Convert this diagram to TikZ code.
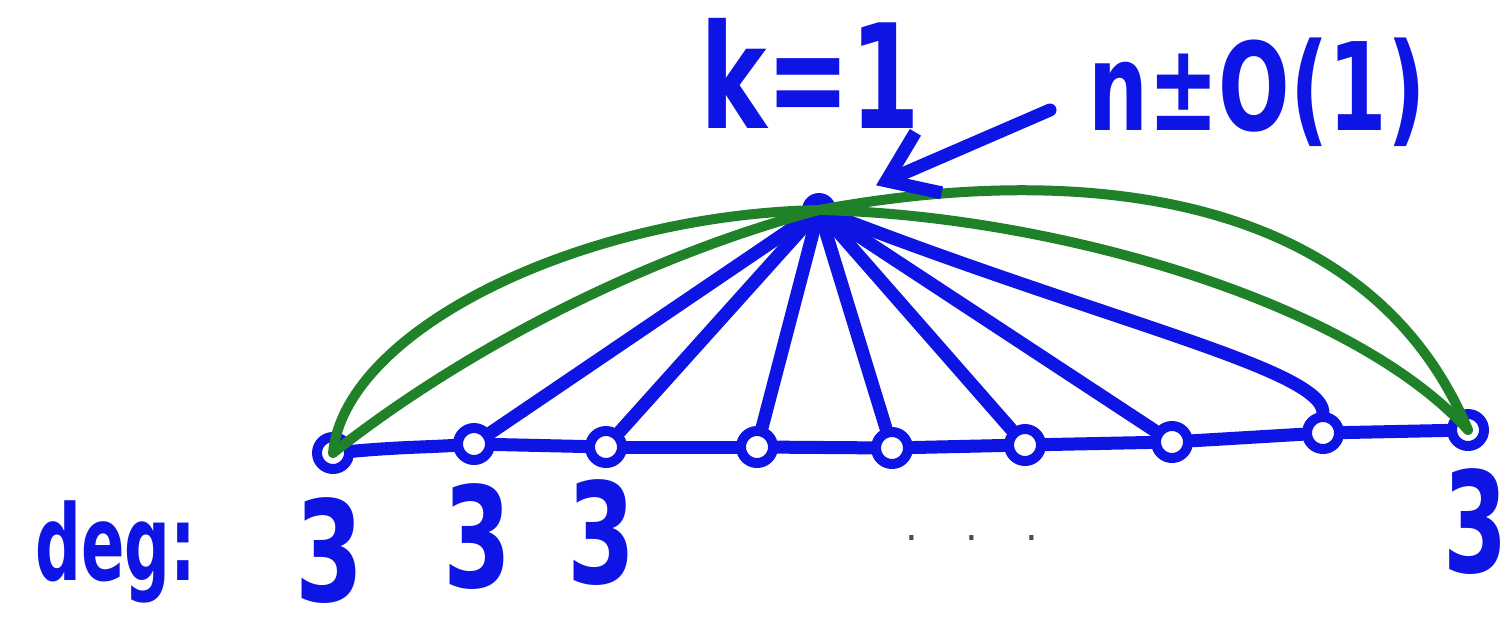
\documentclass[tikz,border=0pt]{standalone}
\usepackage{fontspec}
\setmainfont{DejaVu Sans}
\usetikzlibrary{arrows.meta}
\definecolor{pen}{RGB}{14,20,228}
\definecolor{grn}{RGB}{32,130,40}
\begin{document}
\begin{tikzpicture}[x=1pt,y=-1pt, line cap=round, line join=round,
 vtx/.style={circle, draw=pen, line width=10pt, minimum size=32pt, inner sep=0pt},
 hubv/.style={circle, fill=pen, minimum size=34pt, inner sep=0pt},
 bl/.style={draw=pen, line width=13pt},
 gr/.style={draw=grn, line width=10pt},
 digit/.style={text=pen, inner sep=0pt, anchor=base, font=\bfseries\fontsize{140}{140}\selectfont},
 lab/.style={text=pen, inner sep=0pt, anchor=base}]
\useasboundingbox (0,0) rectangle (1511,643);
\fill[white] (0,0) rectangle (1511,643);
% vertices
\node[vtx] (v1) at (333,453) {};
\node[vtx] (v2) at (474,444) {};
\node[vtx] (v3) at (606,447) {};
\node[vtx] (v4) at (757,447) {};
\node[vtx] (v5) at (892,448) {};
\node[vtx] (v6) at (1025,445) {};
\node[vtx] (v7) at (1172,442) {};
\node[vtx] (v8) at (1323,433) {};
\node[vtx] (v9) at (1468,430) {};
\node[hubv] (hub) at (819,210) {};
% path along the bottom
\draw[bl] (v1) .. controls (400,447) and (430,447) .. (v2);
\draw[bl] (v2) -- (v3);
\draw[bl] (v3) -- (v4);
\draw[bl] (v4) -- (v5);
\draw[bl] (v5) -- (v6);
\draw[bl] (v6) -- (v7);
\draw[bl] (v7) -- (v8);
\draw[bl] (v8) -- (v9);
% spokes
\draw[bl] (hub) -- (v2);
\draw[bl] (hub) -- (v3);
\draw[bl] (hub) -- (v4);
\draw[bl] (hub) -- (v5);
\draw[bl] (hub) -- (v6);
\draw[bl] (hub) -- (v7);
\draw[bl] (hub.center) .. controls (1100,320) and (1320,368) .. (v8.north);
% green double edges
\draw[gr] (v1.center) .. controls (345,330) and (580,215) .. (hub.center);
\draw[gr] (v1.center) .. controls (470,345) and (650,255) .. (hub.center);
\draw[gr] (hub.center) .. controls (1090,160) and (1370,195) .. (v9.center);
\draw[gr] (hub.center) .. controls (1050,215) and (1350,300) .. (v9.center);
% labels
\node[lab, font=\bfseries\fontsize{145}{145}\selectfont] (k) at (810,128) {\scalebox{0.69}[1]{k=1}};
\node[lab, font=\bfseries\fontsize{122}{122}\selectfont] (n) at (1257,130) {\scalebox{0.69}[1]{n±O(1)}};
\coordinate (arrs) at (1050,110);
\draw[bl, -{Straight Barb[length=46pt,width=66pt]}, shorten >=45pt] (arrs) -- (hub);
\node[lab, font=\bfseries\fontsize{105}{105}\selectfont] (deg) at (116,580) {\scalebox{0.61}[1]{deg:}};
\node[digit] (d1) at (330,601) {\scalebox{0.7}[1]{3}};
\node[digit] (d2) at (478,587) {\scalebox{0.7}[1]{3}};
\node[digit] (d3) at (602,583) {\scalebox{0.7}[1]{3}};
\node[digit] (d9) at (1476,572) {\scalebox{0.66}[1]{3}};
\node[text=black!70, inner sep=0pt, font=\fontsize{40}{40}\selectfont] (dots) at (972,538) {.\hspace{47pt}.\hspace{47pt}.};
\end{tikzpicture}
\end{document}
